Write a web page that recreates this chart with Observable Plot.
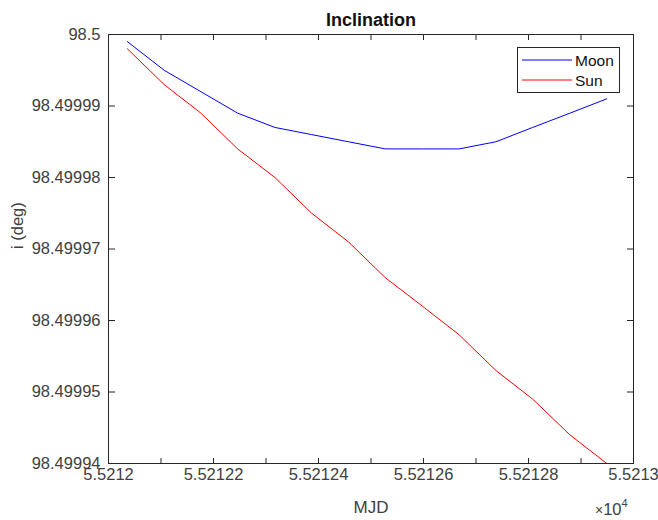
<!DOCTYPE html>
<html>
<head>
<meta charset="utf-8">
<script src="https://cdn.jsdelivr.net/npm/d3@7"></script>
<script src="https://cdn.jsdelivr.net/npm/@observablehq/plot@0.6"></script>
<style>
  body { margin: 0; background: #fff; }
  svg { display: block; }
</style>
</head>
<body>
<div id="chart"></div>
<script>
// Epochs (MJD), one sample per orbit
const mjd = [55212.036, 55212.106, 55212.176, 55212.246, 55212.317, 55212.387, 55212.457,
             55212.527, 55212.598, 55212.668, 55212.738, 55212.808, 55212.879, 55212.949];

// Inclination (deg) under each perturbing body
const moonInc = [98.499999, 98.499995, 98.499992, 98.499989, 98.499987, 98.499986, 98.499985,
                 98.499984, 98.499984, 98.499984, 98.499985, 98.499987, 98.499989, 98.499991];
const sunInc  = [98.499998, 98.499993, 98.499989, 98.499984, 98.499980, 98.499975, 98.499971,
                 98.499966, 98.499962, 98.499958, 98.499953, 98.499949, 98.499944, 98.499940];

const seriesNames = ["Moon", "Sun"];
const seriesColors = ["#0000ff", "#ff0000"];

// Axis ticks
const xTicks = [55212, 55212.1, 55212.2, 55212.3, 55212.4, 55212.5, 55212.6, 55212.7, 55212.8, 55212.9, 55213];
const xLabelTicks = [55212, 55212.2, 55212.4, 55212.6, 55212.8, 55213];
const yTicks = [98.49994, 98.49995, 98.49996, 98.49997, 98.49998, 98.49999, 98.5];

const rows = [
  ...mjd.map((t, i) => ({t, inc: moonInc[i], body: seriesNames[0]})),
  ...mjd.map((t, i) => ({t, inc: sunInc[i], body: seriesNames[1]}))
];

const axisColor = "#262626";
const fontFamily = "'Liberation Sans', Arial, sans-serif";
const fmtY = d => String(+d.toFixed(5));
const fmtX = d => String(+(d / 1e4).toFixed(5));

const plot = Plot.plot({
  width: 658,
  height: 520,
  marginLeft: 108,
  marginRight: 25,
  marginTop: 34,
  marginBottom: 57,
  style: {fontFamily, fontSize: "16.5px", color: axisColor, background: "#fff", overflow: "visible"},
  x: {domain: [55212, 55213], axis: null},
  y: {domain: [98.49994, 98.5], axis: null},
  color: {domain: seriesNames, range: seriesColors},
  marks: [
    // inward ticks on all four sides
    Plot.axisX(xTicks, {anchor: "top", frameAnchor: "bottom", tickSize: 6, fill: "none", label: null, stroke: axisColor}),
    Plot.axisX(xTicks, {anchor: "bottom", frameAnchor: "top", tickSize: 6, fill: "none", label: null, stroke: axisColor}),
    Plot.axisY(yTicks, {anchor: "right", frameAnchor: "left", tickSize: 6, fill: "none", label: null, stroke: axisColor}),
    Plot.axisY(yTicks, {anchor: "left", frameAnchor: "right", tickSize: 6, fill: "none", label: null, stroke: axisColor}),
    // tick labels
    Plot.axisX(xLabelTicks, {anchor: "bottom", tickSize: 0, tickPadding: 5, tickFormat: fmtX, label: null, fill: "#404040"}),
    Plot.axisY(yTicks, {anchor: "left", tickSize: 0, tickPadding: 8, tickFormat: fmtY, label: null, fill: "#404040"}),
    // data
    Plot.line(rows, {x: "t", y: "inc", z: "body", stroke: "body", strokeWidth: 1}),
    Plot.frame({stroke: axisColor, strokeWidth: 1}),
    // titles
    Plot.text(["Inclination"], {frameAnchor: "top", lineAnchor: "bottom", dy: -9, fontWeight: "bold", fontSize: 18, fill: "#111"}),
    Plot.text(["MJD"], {frameAnchor: "bottom", lineAnchor: "bottom", dy: 49, fontSize: 17, fill: "#404040"}),
    Plot.text(["i (deg)"], {frameAnchor: "left", rotate: -90, dx: -91, fontSize: 16.5, fill: "#404040"})
  ]
});

const svg = d3.select(plot);

// exponent note for the x axis
const expo = svg.append("text")
  .attr("x", 595).attr("y", 515)
  .attr("text-anchor", "start")
  .attr("fill", "#404040")
  .style("font-family", fontFamily);
expo.append("tspan").attr("font-size", 14).text("\u00d7");
expo.append("tspan").attr("font-size", 16.5).text("10");
expo.append("tspan").attr("font-size", 11).attr("dy", -8).text("4");

// legend box
const lg = svg.append("g").style("font-family", fontFamily).attr("text-anchor", "start");
lg.append("rect")
  .attr("x", 517.5).attr("y", 47.5).attr("width", 102).attr("height", 45)
  .attr("fill", "#fff").attr("stroke", axisColor).attr("stroke-width", 1);
seriesNames.forEach((name, i) => {
  const y = 60 + i * 20;
  lg.append("line")
    .attr("x1", 522).attr("x2", 572).attr("y1", y).attr("y2", y)
    .attr("stroke", seriesColors[i]).attr("stroke-width", 1);
  lg.append("text")
    .attr("x", 575).attr("y", y + 6)
    .attr("font-size", 15.5).attr("fill", "#111")
    .text(name);
});

document.getElementById("chart").appendChild(plot);
</script>
</body>
</html>
